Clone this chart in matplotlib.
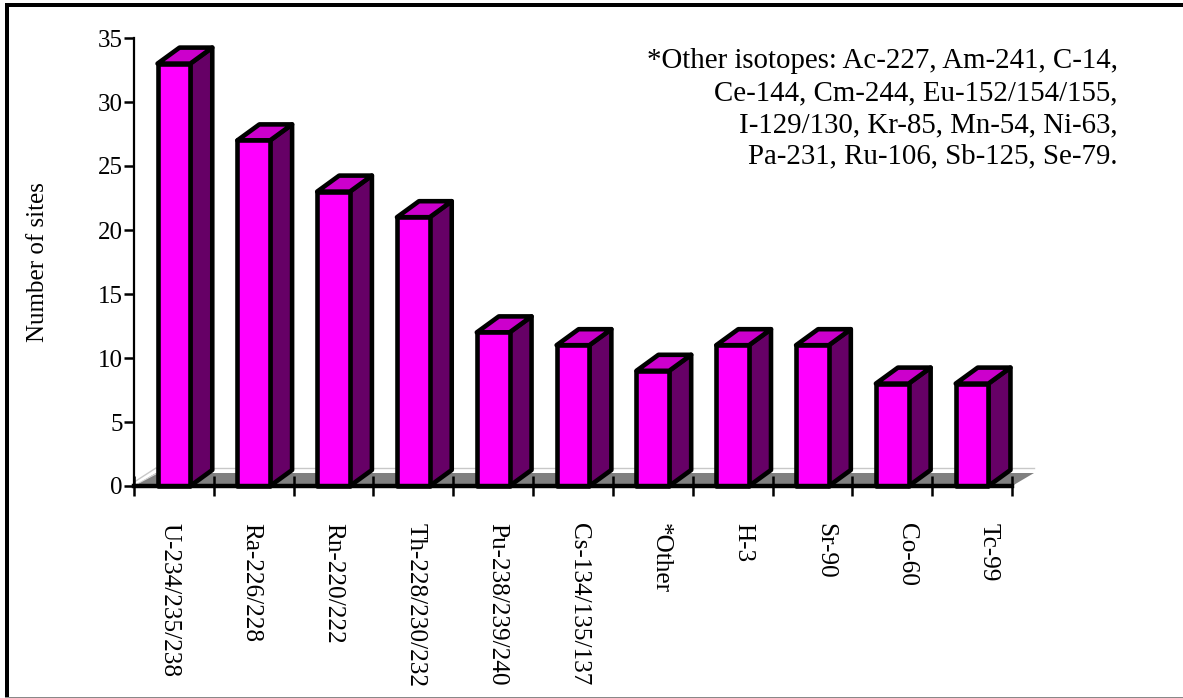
import matplotlib
matplotlib.use("Agg")
import matplotlib.pyplot as plt
from matplotlib.patches import Polygon, Rectangle

plt.rcParams['font.family'] = ['Liberation Serif', 'DejaVu Serif']

categories = ['U-234/235/238', 'Ra-226/228', 'Rn-220/222', 'Th-228/230/232',
              'Pu-238/239/240', 'Cs-134/135/137', '*Other', 'H-3', 'Sr-90', 'Co-60', 'Tc-99']
sites = [33, 27, 23, 21, 12, 11, 9, 11, 11, 8, 8]
y_ticks = [0, 5, 10, 15, 20, 25, 30, 35]
note_lines = ['*Other isotopes: Ac-227, Am-241, C-14,',
              'Ce-144, Cm-244, Eu-152/154/155,',
              'I-129/130, Kr-85, Mn-54, Ni-63,',
              'Pa-231, Ru-106, Sb-125, Se-79.']

W, H = 1183, 698
fig = plt.figure(figsize=(W / 100, H / 100), dpi=100, facecolor='white')
# page border: heavy left and top, thin grey bottom
fig.add_artist(Rectangle((5 / W, 1 - 697 / H), 4 / W, 694 / H, transform=fig.transFigure,
                         fc='black', ec='none'))
fig.add_artist(Rectangle((5 / W, 1 - 6.5 / H), 1178 / W, 3.5 / H, transform=fig.transFigure,
                         fc='black', ec='none'))
fig.add_artist(Rectangle((5 / W, 0), 1178 / W, 1.5 / H, transform=fig.transFigure,
                         fc='#888888', ec='none'))

L, R, T, B = 134, 1012, 38, 486
ax = fig.add_axes([L / W, 1 - B / H, (R - L) / W, (B - T) / H])
ax.set_xlim(0, len(categories))
ax.set_ylim(0, 35)
ax.patch.set_visible(False)

PX = (R - L) / len(categories)
PY = (B - T) / 35
DX = 22 / PX
DY = 16 / PY
FLOOR = 13 / PY
LINE = 18 / PY
BW = 0.41
N = len(categories)

# floor and wall traces
ax.add_patch(Polygon([(0, 0), (N, 0), (N + DX, FLOOR), (DX, FLOOR)],
                     closed=True, fc='#808080', ec='none', clip_on=False, zorder=1))
ax.plot([DX, N + DX], [LINE, LINE], color='#c8c8c8', lw=1, clip_on=False, zorder=1)
ax.plot([0, DX], [0.3, LINE], color='#c8c8c8', lw=1, clip_on=False, zorder=1)
ax.plot([0.02, DX + 0.02], [0.1, FLOOR], color='#d8d8d8', lw=0.8, clip_on=False, zorder=1)

# 3-D bars
for i, v in enumerate(sites):
    x0, x1 = i + 0.5 - BW / 2, i + 0.5 + BW / 2
    style = dict(closed=True, ec='black', lw=3.3, joinstyle='round', clip_on=False, zorder=3 + i)
    ax.add_patch(Polygon([(x1, 0), (x1 + DX, DY), (x1 + DX, v + DY), (x1, v)], fc='#660066', **style))
    ax.add_patch(Polygon([(x0, v), (x1, v), (x1 + DX, v + DY), (x0 + DX, v + DY)], fc='#CC00CC', **style))
    ax.add_patch(Polygon([(x0, 0), (x1, 0), (x1, v), (x0, v)], fc='#FF00FF', **style))

for s in ('top', 'right'):
    ax.spines[s].set_visible(False)
ax.spines['left'].set_linewidth(1.6)
ax.spines['bottom'].set_linewidth(3.2)
ax.spines['bottom'].set_zorder(30)

ax.set_yticks(y_ticks)
ax.tick_params(axis='y', length=7, width=1.8, labelsize=18, pad=1)
ax.set_xticks(range(N + 1))
ax.set_xticklabels([])
ax.tick_params(axis='x', direction='inout', length=15, width=1.8)
for t in ax.xaxis.get_major_ticks():
    t.tick1line.set_zorder(30)

# labels are spaced slightly wider than the bars in the reference
for i, c in enumerate(categories):
    off_px = -4.1 + 2.05 * i
    ax.annotate(c, xy=(i + 0.5, 0), xycoords='data', xytext=(off_px * 0.72, -26.5),
                textcoords='offset points', rotation=-90, ha='center', va='top',
                fontsize=18.2, color='black', annotation_clip=False)

ax.text(38 / W, 1 - 262.5 / H, 'Number of sites', transform=fig.transFigure, rotation=90,
        ha='center', va='center', fontsize=18)

note_y = [61.5, 93, 125, 156.5]
for line, py in zip(note_lines, note_y):
    ax.text(1118 / W, 1 - py / H, line, transform=fig.transFigure, ha='right',
            va='center', fontsize=20.8, zorder=40)

fig.savefig('out.png', dpi=100)
